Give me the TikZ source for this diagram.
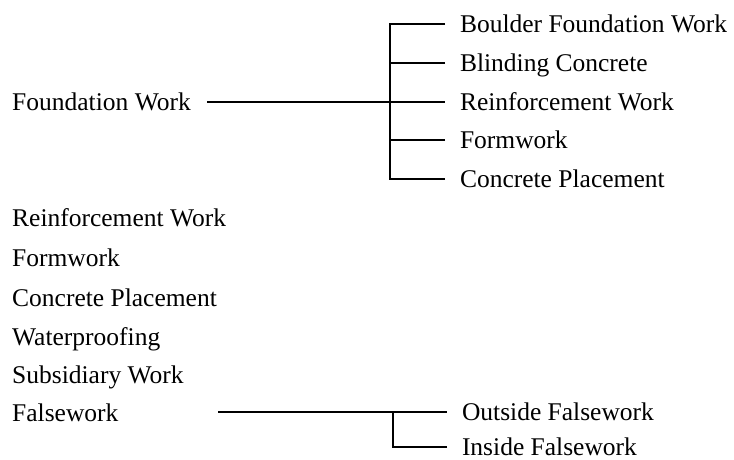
\documentclass[tikz,border=0pt]{standalone}
\usepackage{fontspec}
\setmainfont{Liberation Serif}
\begin{document}
\begin{tikzpicture}[x=1pt,y=-1pt,
  lbl/.style={anchor=west,inner xsep=0pt,inner ysep=0pt,text height=17pt,text depth=0pt,
    font=\fontsize{25.5}{30}\selectfont},
  sub/.style={lbl,outer xsep=15pt},
  link/.style={line width=1.1pt},
  bar/.style={line width=2.4pt}]
\useasboundingbox[fill=white] (0,0) rectangle (734,460);
% left column
\node[lbl] (fw)  at (12,102) {Foundation Work};
\node[lbl] (rw)  at (12,218) {Reinforcement Work};
\node[lbl] (fm)  at (12,258) {Formwork};
\node[lbl] (cp)  at (12,298) {Concrete Placement};
\node[lbl] (wp)  at (12,337) {Waterproofing};
\node[lbl] (sw)  at (12,375) {Subsidiary Work};
\node[lbl] (fa)  at (12,413) {Falsework};
% foundation sub-items
\node[sub] (b1) at (445,24)  {Boulder Foundation Work};
\node[sub] (b2) at (445,63)  {Blinding Concrete};
\node[sub] (b3) at (445,102) {Reinforcement Work};
\node[sub] (b4) at (445,140) {Formwork};
\node[sub] (b5) at (445,179) {Concrete Placement};
% falsework sub-items
\node[sub] (o1) at (447,412) {Outside Falsework};
\node[sub] (i1) at (447,447) {Inside Falsework};
% connectors
\coordinate (fws) at (207,102);
\coordinate (jf) at (390,102);
\draw[link] (fws) -- (jf) -- (b3.west);
\draw[link] (b1.west) -- (b1.west -| jf);
\draw[link] (b2.west) -- (b2.west -| jf);
\draw[link] (b4.west) -- (b4.west -| jf);
\draw[link] (b5.west) -- (b5.west -| jf);
\draw[bar] ([yshift=0.6pt]b1.west -| jf) -- ([yshift=-0.6pt]b5.west -| jf);
\coordinate (fas) at (218,412);
\coordinate (jfa) at (393,412);
\draw[link] (fas) -- (jfa) -- (o1.west);
\draw[link] (i1.west) -- (i1.west -| jfa);
\draw[bar] (jfa) -- ([yshift=-0.6pt]i1.west -| jfa);
\end{tikzpicture}
\end{document}
